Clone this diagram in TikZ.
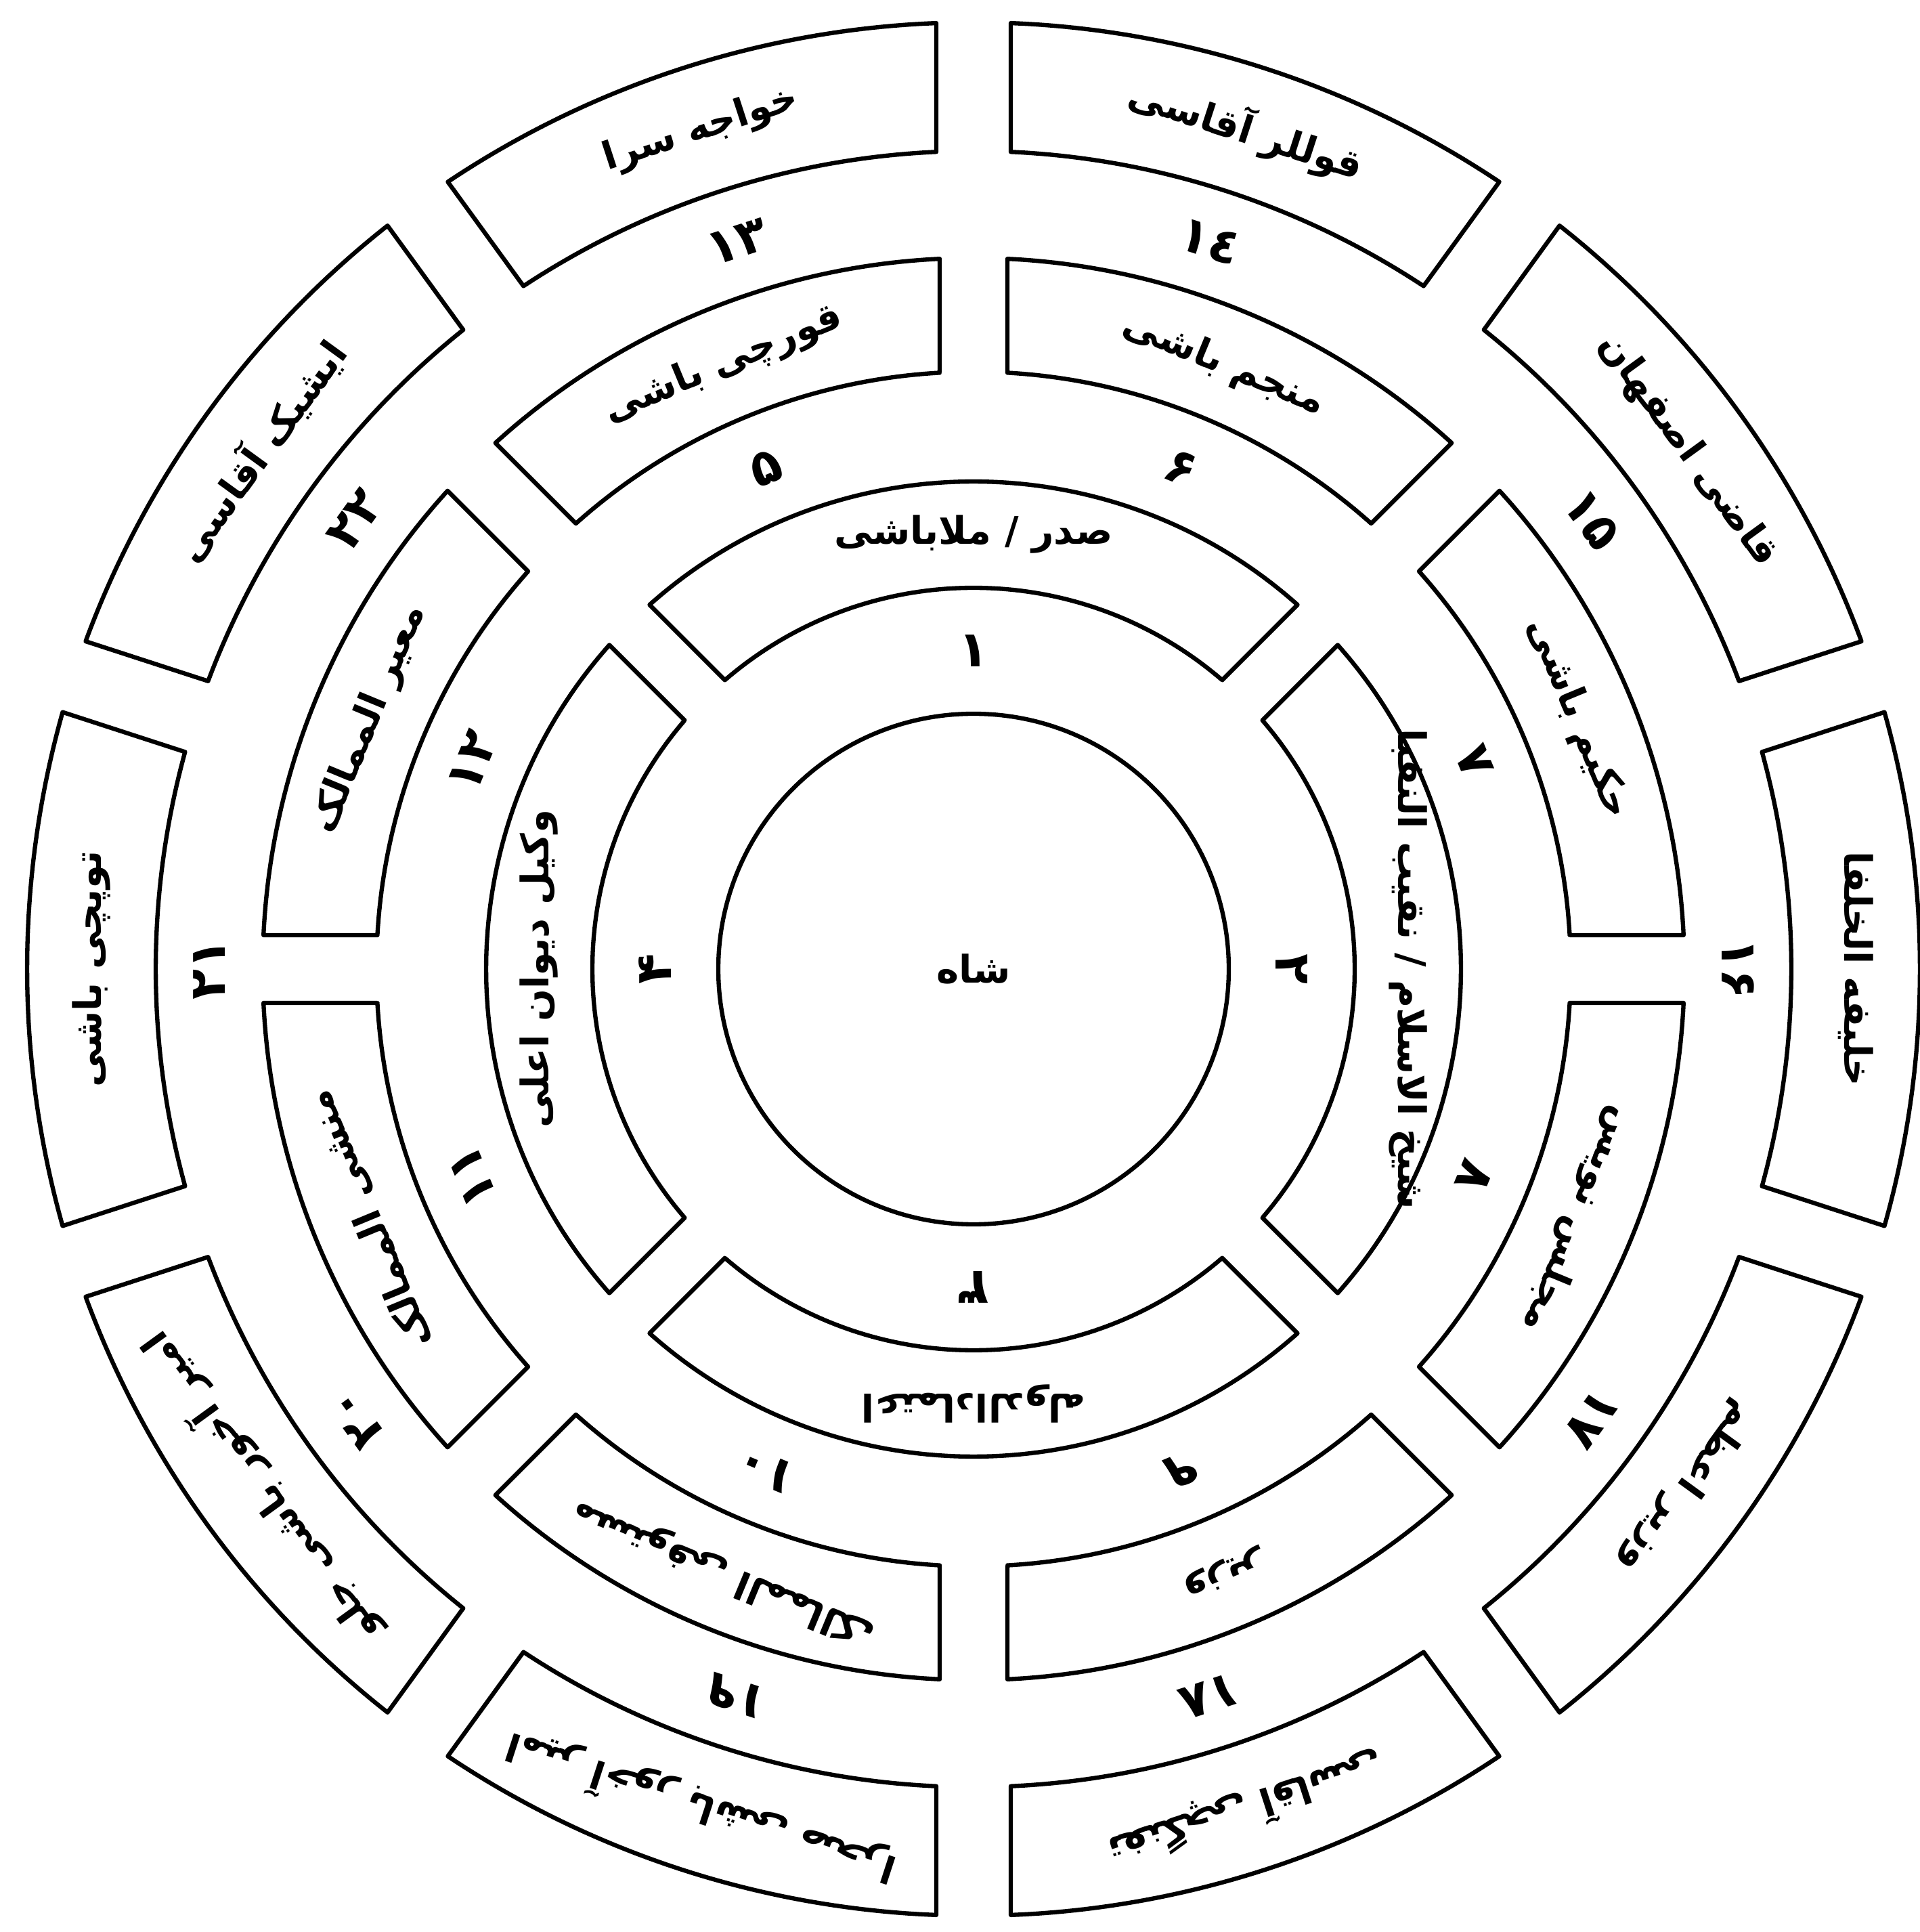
\documentclass[tikz,border=0pt]{standalone}
\usepackage{fontspec}
\newfontfamily\persfont[Script=Arabic]{DejaVu Sans}
\TeXXeTstate=1

% one block of a ring: from angle, to angle, inner radius, outer radius, half gap
\newcommand{\ringpart}[5]{%
  \pgfmathsetmacro{\ai}{#1+asin(#5/#3)}%
  \pgfmathsetmacro{\bi}{#2-asin(#5/#3)}%
  \pgfmathsetmacro{\ao}{#1+asin(#5/#4)}%
  \pgfmathsetmacro{\bo}{#2-asin(#5/#4)}%
  \draw[ringline] (\ai:#3) -- (\ao:#4) arc[start angle=\ao, end angle=\bo, radius=#4]
    -- (\bi:#3) arc[start angle=\bi, end angle=\ai, radius=#3] -- cycle;
}

\tikzset{
  ringline/.style={line width=1.8pt, line join=round},
  segtext/.style={font=\persfont\bfseries\fontsize{16}{19}\selectfont, inner sep=0pt},
  numtext/.style={font=\persfont\bfseries\fontsize{21}{24}\selectfont, inner sep=0pt},
}

\begin{document}
\begin{tikzpicture}
    \useasboundingbox (-14.38,-14.22) rectangle (13.97,14.31);
    % Shah
    \node[draw, circle, line width=1.8pt, minimum size=7.54cm, segtext] (shah) at (0,0) {\beginR شاه\endR};
    % Ring 1
    \foreach \c/\nm/\num/\lab in {90/sadr/۱/{صدر / ملاباشی}, 0/shaykh/۲/{شیخ الاسلام / نقیب النقبا},
        -90/etemad/۳/{اعتمادالدوله}, 180/vakil/۴/{وکیل دیوان اعلی}} {
      \ringpart{\c-45}{\c+45}{5.63}{7.20}{0.42}
      \node[segtext, rotate=\c-90] (t\nm) at (\c:6.42) {\beginR\lab\endR};
      \node[numtext, rotate=\c-90] (n\nm) at (\c:4.70) {\num};
    }
    % Ring 2
    \foreach \c/\nm/\num/\lab in {112.5/qurchi/۵/{قورچی باشی}, 67.5/monajjem/۶/{منجم باشی},
        22.5/hakim/۷/{حکیم باشی}, -22.5/majles/۸/{مجلس نویس}, -67.5/vazir/۹/{وزیر},
        -112.5/mostowfi/۱۰/{مستوفی الممالک}, -157.5/monshi/۱۱/{منشی الممالک},
        157.5/moayyer/۱۲/{معیر الممالک}} {
      \ringpart{\c-22.5}{\c+22.5}{8.82}{10.50}{0.50}
      \node[segtext, rotate=\c-90] (t\nm) at (\c:9.66) {\beginR\lab\endR};
      \node[numtext, rotate=\c-90] (n\nm) at (\c:8.01) {\num};
    }
    % Ring 3
    \foreach \c/\nm/\num/\lab in {108/khajeh/۱۳/{خواجه سرا}, 72/qollar/۱٤/{قوللر آقاسی},
        36/qazi/۱۵/{قاضی اصفهان}, 0/khalifeh/۱۶/{خلیفه الخلفا}, -36/vazirazam/۱۷/{وزیر اعظم},
        -72/tofang/۱۸/{تفنگچی آقاسی}, -108/sahra/۱۹/{امیر آخور باشی صحرا},
        -144/jelow/۲۰/{امیر آخور باشی جلو}, 180/tupchi/۲۱/{توپچی باشی},
        144/ishik/۲۲/{ایشیک آقاسی}} {
      \ringpart{\c-18}{\c+18}{12.08}{13.98}{0.55}
      \node[segtext, rotate=\c-90] (t\nm) at (\c:13.03) {\beginR\lab\endR};
      \node[numtext, rotate=\c-90] (n\nm) at (\c:11.29) {\num};
    }
\end{tikzpicture}
\end{document}
